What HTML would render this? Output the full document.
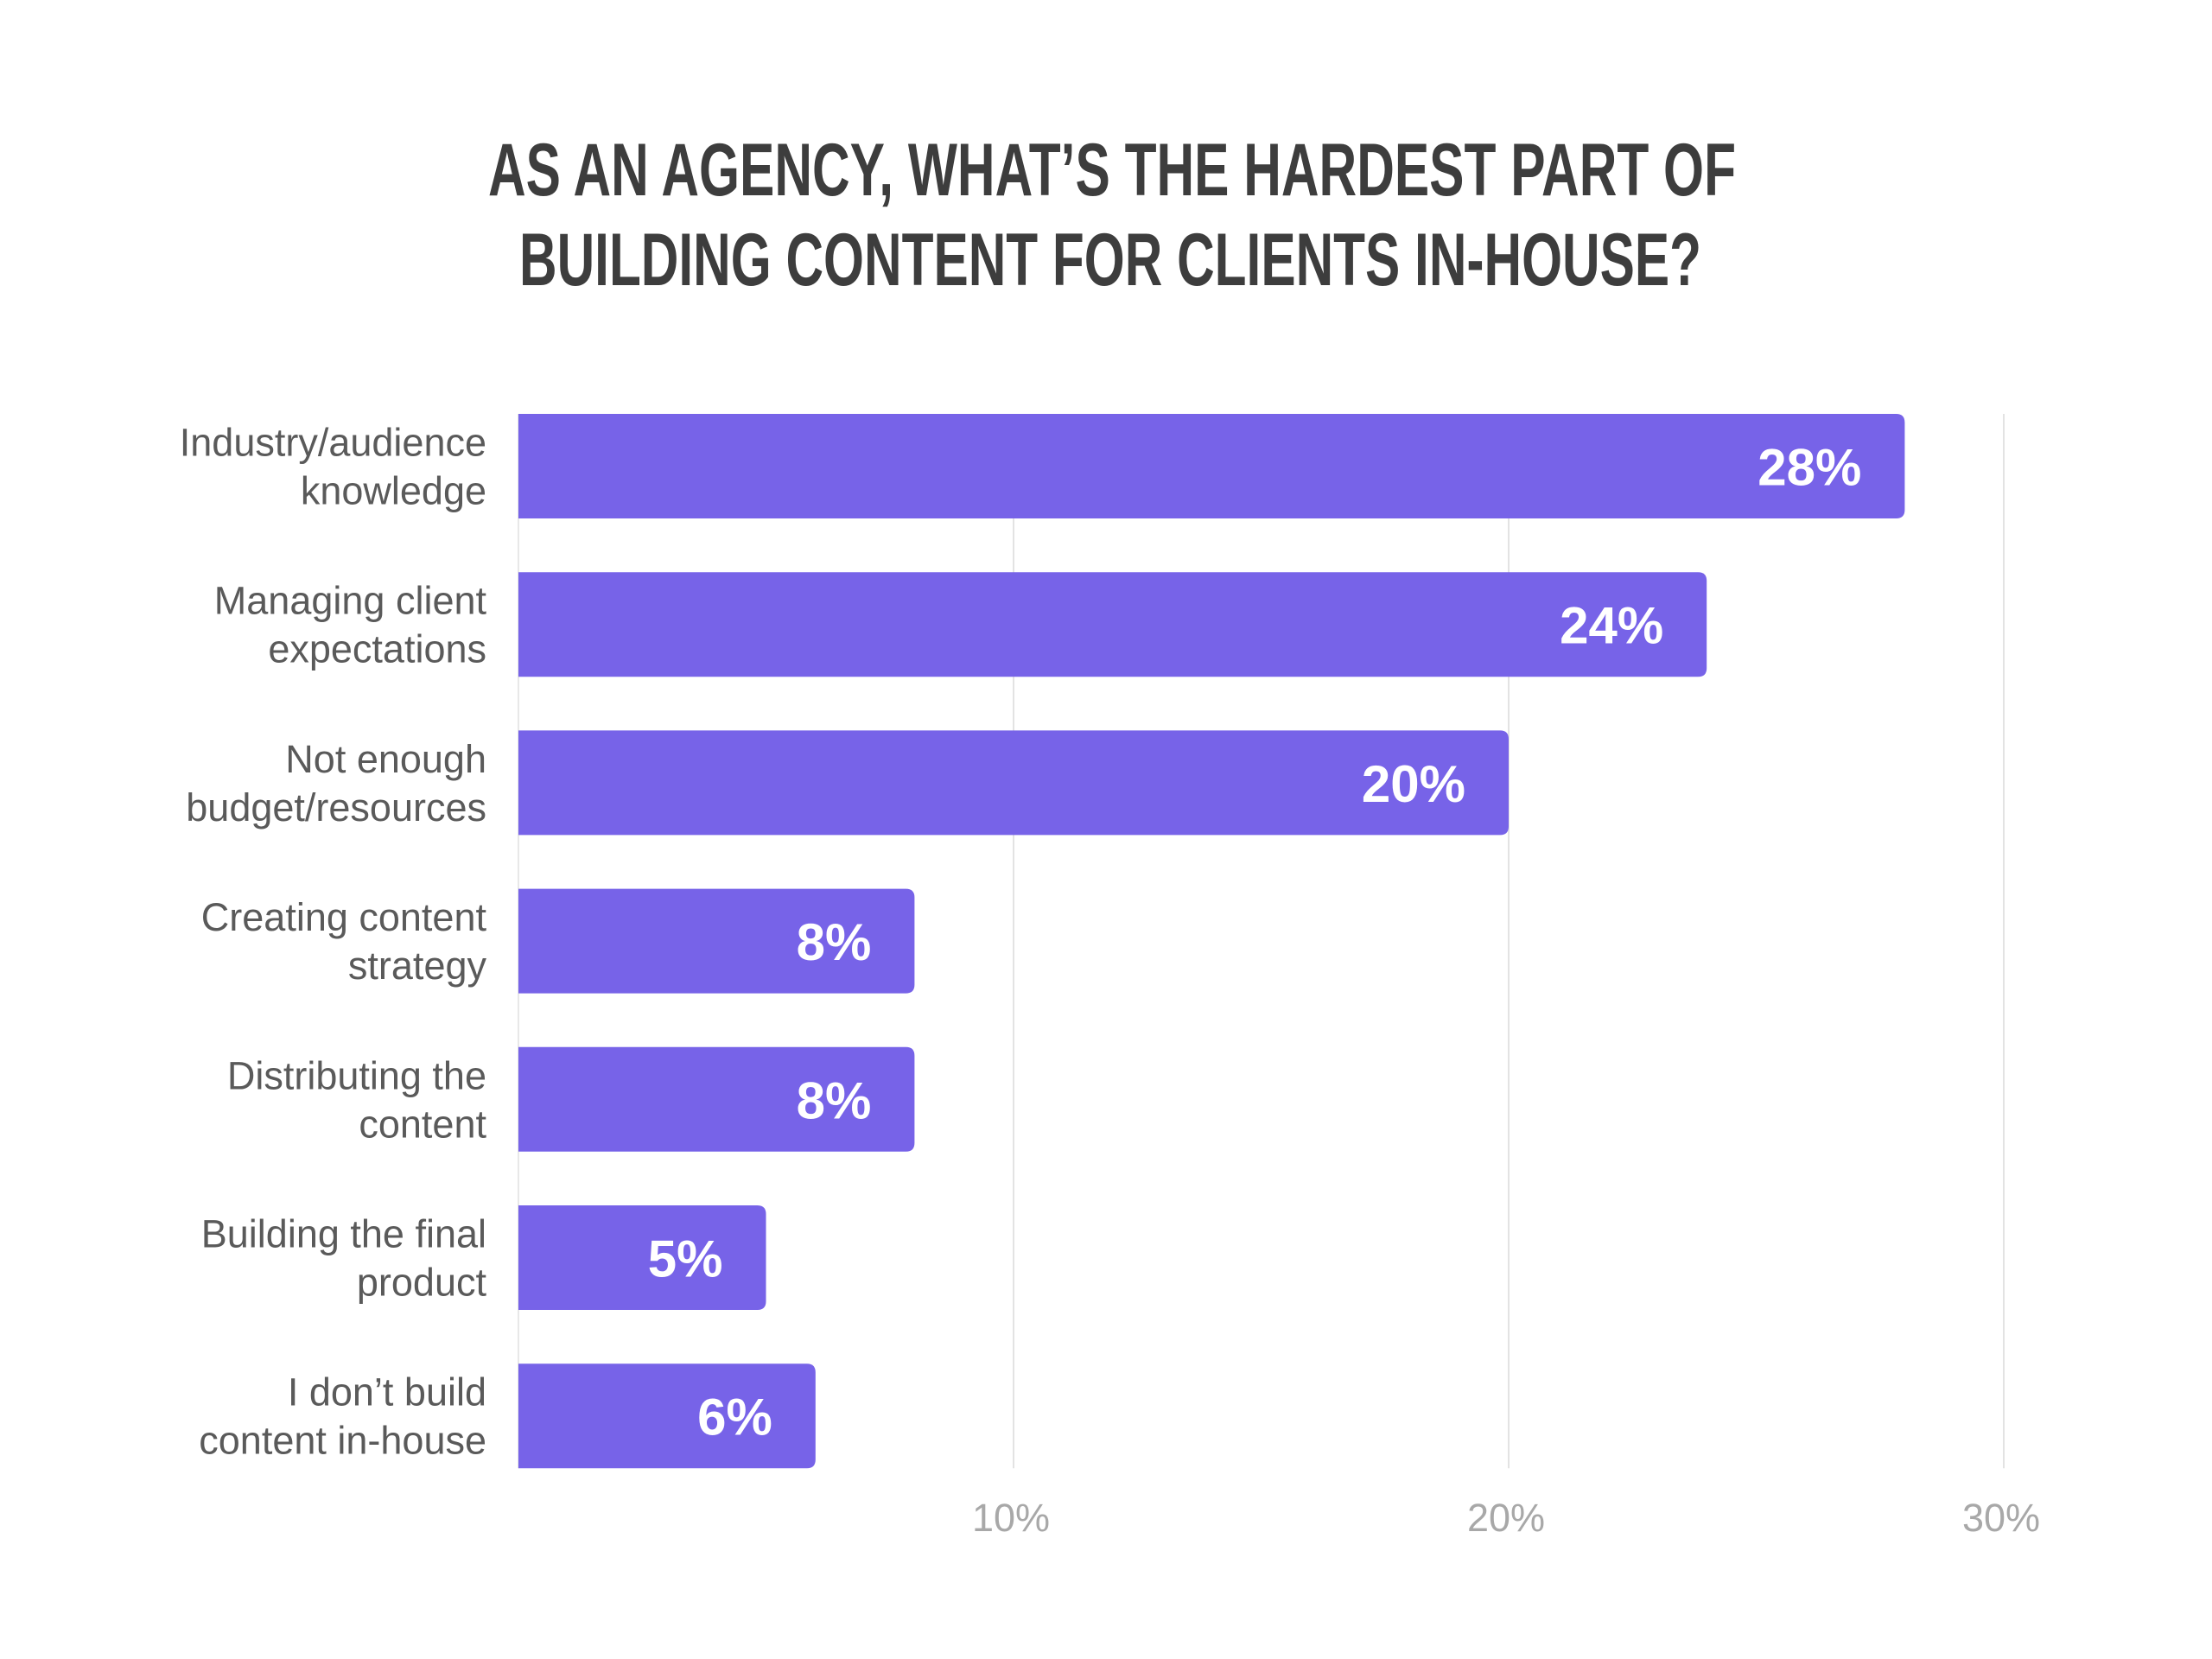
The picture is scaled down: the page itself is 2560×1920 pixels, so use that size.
<!DOCTYPE html>
<html><head><meta charset="utf-8"><style>
html,body{margin:0;padding:0;background:#fff}
svg{display:block}
</style></head><body>
<svg id="chart" width="2560" height="1920" viewBox="0 0 2560 1920" xmlns="http://www.w3.org/2000/svg">
<rect width="2560" height="1920" fill="#fff"/>
<g font-family="'Liberation Sans Narrow','Liberation Sans',sans-serif" font-weight="bold" fill="#3d3d3d" font-size="86">
<text x="565" y="226" textLength="1444" lengthAdjust="spacingAndGlyphs">AS AN AGENCY, WHAT’S THE HARDEST PART OF</text>
<text x="601" y="330" textLength="1368" lengthAdjust="spacingAndGlyphs">BUILDING CONTENT FOR CLIENTS IN-HOUSE?</text>
</g>
<g id="grid"></g>
<g id="bars"></g>
<g id="labels"></g>
<g id="ticks"></g>
</svg>
<script>
const categories = [["Industry/audience","knowledge"],["Managing client","expectations"],["Not enough","budget/resources"],["Creating content","strategy"],["Distributing the","content"],["Building the final","product"],["I don’t build","content in-house"]];
const values = [28,24,20,8,8,5,6];
const valueLabels = ["28%","24%","20%","8%","8%","5%","6%"];
const tickValues = [10,20,30];
const tickLabels = ["10%","20%","30%"];

const NS = "http://www.w3.org/2000/svg";
const x0 = 600, pxPerUnit = 57.3;
const xScale = v => x0 + v * pxPerUnit;
const top0 = 479, pitch = 183.2, barH = 121;
const yScale = i => top0 + i * pitch;
const gridBottom = yScale(values.length - 1) + barH;
function mk(tag, attrs){const e=document.createElementNS(NS,tag);for(const k in attrs)e.setAttribute(k,attrs[k]);return e;}

const grid = document.getElementById('grid');
const ticks = document.getElementById('ticks');
tickValues.forEach((t,i)=>{
  const l = mk('line',{x1:xScale(t),x2:xScale(t),y1:top0,y2:gridBottom,stroke:'#e3e3e3','stroke-width':2});
  
  
  grid.appendChild(l);
  const tx = mk('text',{x:xScale(t)-3,y:1772,'text-anchor':'middle','font-family':"'Liberation Sans',sans-serif",'font-size':45,fill:'#a8a8a8'});
  tx.textContent = tickLabels[i];
  
  
  ticks.appendChild(tx);
});
const axis = mk('line',{x1:x0,x2:x0,y1:top0,y2:gridBottom,stroke:'#e8e8e8','stroke-width':2});


grid.appendChild(axis);

const bars = document.getElementById('bars');
const labels = document.getElementById('labels');
values.forEach((v,i)=>{
  const y = yScale(i), w = xScale(v) - x0, r = 10;
  const p = mk('path',{d:`M${x0},${y} H${x0+w-r} Q${x0+w},${y} ${x0+w},${y+r} V${y+barH-r} Q${x0+w},${y+barH} ${x0+w-r},${y+barH} H${x0} Z`,fill:'#7763e8'});
  
  
  bars.appendChild(p);
  const vt = mk('text',{x:xScale(v)-50,y:y+barH/2+22,'text-anchor':'end','font-family':"'Liberation Sans',sans-serif",'font-weight':'bold','font-size':60,fill:'#fff'});
  vt.textContent = valueLabels[i];
  
  
  bars.appendChild(vt);
  const ct = mk('text',{'text-anchor':'end','font-family':"'Liberation Sans',sans-serif",'font-size':45,fill:'#5a5a5a'});
  
  
  categories[i].forEach((line,j)=>{
    const ts = mk('tspan',{x:563,y:y+barH/2-12+j*56});
    ts.textContent = line;
    ct.appendChild(ts);
  });
  labels.appendChild(ct);
});
</script>
</body></html>
